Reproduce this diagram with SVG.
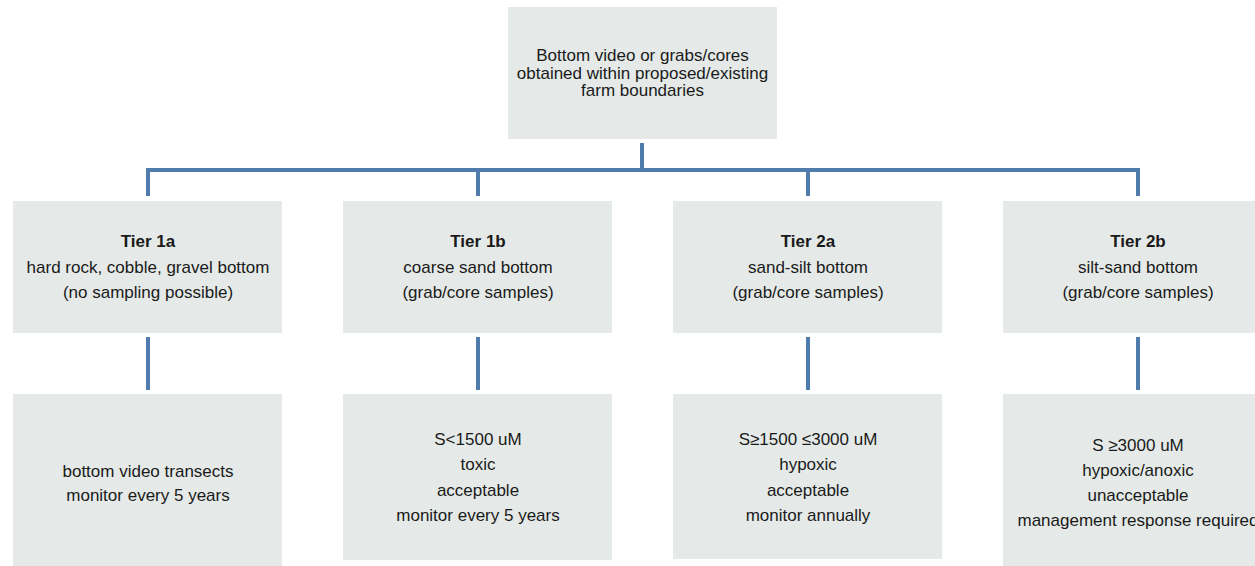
<svg xmlns="http://www.w3.org/2000/svg" width="1255" height="566" viewBox="0 0 1255 566">
<style>
.box{fill:#e5eae8;}
.t{font-family:"Liberation Sans",Arial,sans-serif;font-size:17px;fill:#1a1a1a;text-anchor:middle;}
.b{font-weight:bold;}
.c{stroke:#4f7cac;stroke-width:4;fill:none;}
</style>
<rect width="1255" height="566" fill="#ffffff"/>
<g id="connectors">
<path class="c" d="M642,143 V170"/>
<path class="c" d="M148,196 V170 H1138 V196"/>
<path class="c" d="M478,170 V196"/>
<path class="c" d="M808,170 V196"/>
<path class="c" d="M148,337 V390"/>
<path class="c" d="M478,337 V390"/>
<path class="c" d="M808,337 V390"/>
<path class="c" d="M1138,337 V390"/>
</g>
<g id="root">
<rect class="box" x="508" y="7" width="269" height="132"/>
<text class="t" x="642.5" y="61">Bottom video or grabs/cores</text>
<text class="t" x="642.5" y="78.5">obtained within proposed/existing</text>
<text class="t" x="642.5" y="96">farm boundaries</text>
</g>
<g id="tier1a">
<rect class="box" x="13" y="201" width="269" height="132"/>
<text class="t b" x="148" y="247">Tier 1a</text>
<text class="t" x="148" y="273">hard rock, cobble, gravel bottom</text>
<text class="t" x="148" y="298">(no sampling possible)</text>
</g>
<g id="tier1b">
<rect class="box" x="343" y="201" width="269" height="132"/>
<text class="t b" x="478" y="247">Tier 1b</text>
<text class="t" x="478" y="273">coarse sand bottom</text>
<text class="t" x="478" y="298">(grab/core samples)</text>
</g>
<g id="tier2a">
<rect class="box" x="673" y="201" width="269" height="132"/>
<text class="t b" x="808" y="247">Tier 2a</text>
<text class="t" x="808" y="273">sand-silt bottom</text>
<text class="t" x="808" y="298">(grab/core samples)</text>
</g>
<g id="tier2b">
<rect class="box" x="1003" y="201" width="269" height="132"/>
<text class="t b" x="1138" y="247">Tier 2b</text>
<text class="t" x="1138" y="273">silt-sand bottom</text>
<text class="t" x="1138" y="298">(grab/core samples)</text>
</g>
<g id="result1a">
<rect class="box" x="13" y="394" width="269" height="180"/>
<text class="t" x="148" y="477">bottom video transects</text>
<text class="t" x="148" y="501">monitor every 5 years</text>
</g>
<g id="result1b">
<rect class="box" x="343" y="394" width="269" height="166"/>
<text class="t" x="478" y="445">S&lt;1500 uM</text>
<text class="t" x="478" y="470">toxic</text>
<text class="t" x="478" y="496">acceptable</text>
<text class="t" x="478" y="521">monitor every 5 years</text>
</g>
<g id="result2a">
<rect class="box" x="673" y="394" width="269" height="165"/>
<text class="t" x="808" y="445">S≥1500 ≤3000 uM</text>
<text class="t" x="808" y="470">hypoxic</text>
<text class="t" x="808" y="496">acceptable</text>
<text class="t" x="808" y="521">monitor annually</text>
</g>
<g id="result2b">
<rect class="box" x="1003" y="394" width="269" height="180"/>
<text class="t" x="1138" y="451">S ≥3000 uM</text>
<text class="t" x="1138" y="476">hypoxic/anoxic</text>
<text class="t" x="1138" y="501">unacceptable</text>
<text class="t" x="1138" y="526">management response required</text>
</g>
</svg>
